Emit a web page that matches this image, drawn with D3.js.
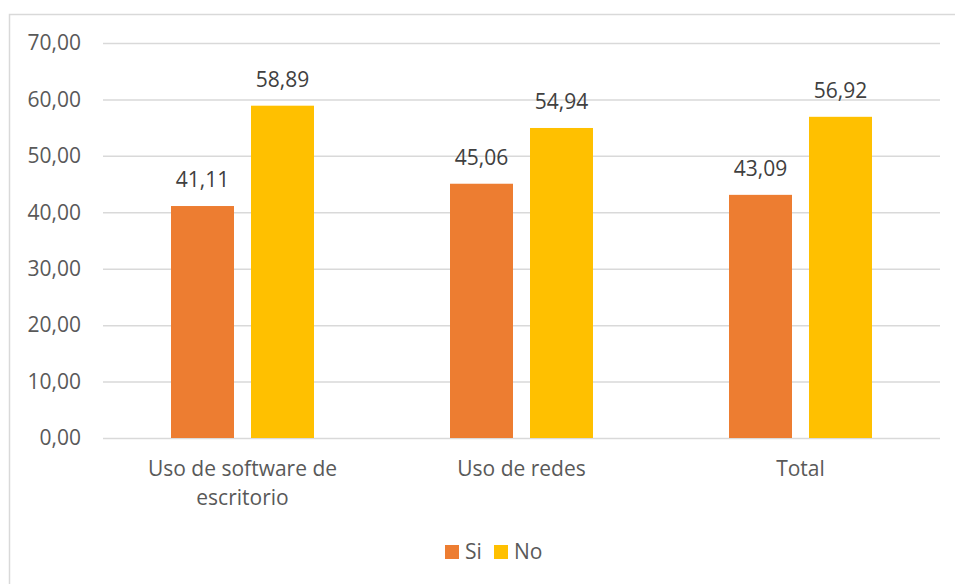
<!DOCTYPE html>
<html>
<head>
<meta charset="utf-8">
<script src="https://cdn.jsdelivr.net/npm/d3@7"></script>
<style>
  body { margin: 0; background: white; }
  #graf { width: 955px; height: 584px; overflow: hidden; }
</style>
</head>
<body>
<div id="graf"></div>
<script>
// Datos del gráfico
categorias = ['Uso de software de escritorio', 'Uso de redes', 'Total']
etiquetas  = [['Uso de software de', 'escritorio'], ['Uso de redes'], ['Total']]
series     = ['Si', 'No']
valoresSi  = [41.11, 45.06, 43.09]
valoresNo  = [58.89, 54.94, 56.92]
ticksY     = [0, 10, 20, 30, 40, 50, 60, 70]

colores = ['#ED7D31', '#FFC000']

ancho_total = 955
alto_total  = 584
margins = { top: 43, left: 103, right: 15, bottom: 146 }
ancho = ancho_total - margins.left - margins.right
alto  = alto_total - margins.top - margins.bottom

fuente = "'Open Sans', sans-serif"
tam = '21px'
coma = d3.formatLocale({ decimal: ',', thousands: '.', grouping: [3], currency: ['', ''] })
fmt = coma.format('.2f')

svg = d3.select('#graf').append('svg')
        .attr('width', ancho_total)
        .attr('height', alto_total)

// marco del área del gráfico
svg.append('rect')
  .attr('x', 9.5)
  .attr('y', 14.5)
  .attr('width', 1000)
  .attr('height', 700)
  .attr('fill', 'white')
  .attr('stroke', '#d9d9d9')
  .attr('stroke-width', 1.5)

g = svg.append('g')
        .attr('transform', `translate(${ margins.left }, ${ margins.top })`)

// Escaladores
x0 = d3.scaleBand().domain(categorias).range([0, ancho])
        .paddingInner(0.4875).paddingOuter(0.24375)
x1 = d3.scaleBand().domain(series).range([0, x0.bandwidth()])
        .paddingInner(0.2125)
y  = d3.scaleLinear().domain([0, 70]).range([alto, 0])
color = d3.scaleOrdinal().domain(series).range(colores)

tabla = categorias.map((c, i) => ({
  cat: c,
  vals: [{ s: 'Si', v: valoresSi[i] }, { s: 'No', v: valoresNo[i] }]
}))

// Rejilla
grid = g.append('g')
  .call(d3.axisLeft(y).tickValues(ticksY).tickFormat('').tickSize(-ancho))
grid.select('.domain').remove()
grid.selectAll('line').attr('stroke', '#d9d9d9').attr('stroke-width', 1.5)

// Eje Y
yAxisG = g.append('g')
  .call(d3.axisLeft(y).tickValues(ticksY).tickFormat(fmt).tickSize(0).tickPadding(22))
yAxisG.select('.domain').remove()
yAxisG.selectAll('text')
  .attr('font-family', fuente)
  .attr('font-size', tam)
  .attr('fill', '#595959')

// Barras
grupos = g.selectAll('.grupo')
  .data(tabla)
  .enter().append('g')
    .attr('class', 'grupo')
    .attr('transform', d => `translate(${x0(d.cat)}, 0)`)

grupos.selectAll('rect')
  .data(d => d.vals)
  .enter().append('rect')
    .attr('x', d => x1(d.s))
    .attr('y', d => y(d.v))
    .attr('width', x1.bandwidth())
    .attr('height', d => alto - y(d.v))
    .attr('fill', d => color(d.s))

grupos.selectAll('text')
  .data(d => d.vals)
  .enter().append('text')
    .attr('x', d => x1(d.s) + x1.bandwidth() / 2)
    .attr('y', d => y(d.v) - 19)
    .attr('text-anchor', 'middle')
    .attr('font-family', fuente)
    .attr('font-size', tam)
    .attr('fill', '#404040')
    .text(d => fmt(d.v))

// Eje X (sin línea, solo etiquetas)
xAxisG = g.append('g')
  .attr('transform', `translate(0, ${alto})`)
  .call(d3.axisBottom(x0).tickSize(0).tickFormat(''))
xAxisG.select('.domain').remove()

xAxisG.selectAll('.tick').each(function(d, i) {
  t = d3.select(this).append('text')
        .attr('text-anchor', 'middle')
        .attr('font-family', fuente)
        .attr('font-size', tam)
        .attr('fill', '#595959')
  etiquetas[i].forEach((linea, j) => {
    t.append('tspan')
      .attr('x', 0)
      .attr('y', 38 + j * 28.5)
      .text(linea)
  })
})

// Leyenda
leyX = [445, 494]
series.forEach((s, i) => {
  svg.append('rect')
    .attr('x', leyX[i])
    .attr('y', 545)
    .attr('width', 14)
    .attr('height', 14)
    .attr('fill', color(s))

  svg.append('text')
    .attr('x', leyX[i] + 20)
    .attr('y', 559)
    .attr('font-family', fuente)
    .attr('font-size', tam)
    .attr('fill', '#595959')
    .text(s)
})
</script>
</body>
</html>
